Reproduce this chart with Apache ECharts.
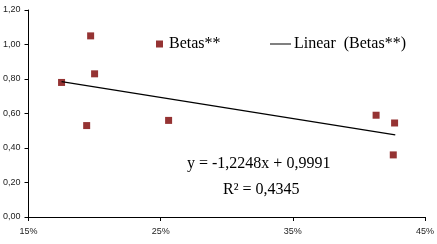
<!DOCTYPE html>
<html><head><meta charset="utf-8">
<script src="https://cdn.jsdelivr.net/npm/echarts@6/dist/echarts.min.js"></script>
<style>html,body{margin:0;padding:0;background:#fff}#c{width:437px;height:244px}</style>
</head><body><div id="c"></div>
<script>
// Data (x in %, y = beta)
const betaX = [17.5, 19.7, 20.0, 19.4, 25.6, 41.3, 42.7, 42.6];
const betaY = [0.78, 1.05, 0.83, 0.53, 0.56, 0.59, 0.545, 0.36];
const trendX = [17.5, 42.75];
const trendY = [0.785, 0.476];
const xTicks = [15, 25, 35, 45];
const yTicks = [0, 0.2, 0.4, 0.6, 0.8, 1.0, 1.2];
const eqText = 'y = -1,2248x + 0,9991';
const r2Text = 'R² = 0,4345';
const seriesName = 'Betas**';
const trendName = 'Linear  (Betas**)';

const chart = echarts.init(document.getElementById('c'), null, {renderer: 'canvas'});
const serif = '"Liberation Serif", "DejaVu Serif", serif';
const axisFont = {fontFamily: '"Liberation Sans", Arial, sans-serif', fontSize: 9, color: '#222'};
chart.setOption({
  animation: false,
  backgroundColor: '#fff',
  grid: {left: 26, right: 12, top: 10, bottom: 27, containLabel: false},
  xAxis: {
    type: 'value', min: xTicks[0], max: xTicks[xTicks.length - 1], interval: 10,
    axisLine: {show: true, lineStyle: {color: '#000', width: 1}},
    axisTick: {show: true, length: 4, inside: false, lineStyle: {color: '#000'}},
    splitLine: {show: false},
    axisLabel: Object.assign({margin: 10, formatter: v => v + '%'}, axisFont)
  },
  yAxis: {
    type: 'value', min: yTicks[0], max: yTicks[yTicks.length - 1], interval: 0.2,
    axisLine: {show: true, lineStyle: {color: '#000', width: 1}},
    axisTick: {show: true, length: 4, lineStyle: {color: '#000'}},
    splitLine: {show: false},
    axisLabel: Object.assign({margin: 8, formatter: v => v.toFixed(2).replace('.', ',')}, axisFont)
  },
  legend: [
    {data: [{name: seriesName, icon: 'rect'}], left: 151, top: 31, itemWidth: 7, itemHeight: 7,
     textStyle: {fontFamily: serif, fontSize: 16, color: '#000', padding: [0, 0, 0, 1]}},
    {data: [{name: trendName, icon: 'rect'}], left: 265, top: 31, itemWidth: 21, itemHeight: 1,
     textStyle: {fontFamily: serif, fontSize: 16, color: '#000', padding: [0, 0, 0, -2]}}
  ],
  series: [
    {name: seriesName, type: 'scatter', symbol: 'rect', symbolSize: 7,
     itemStyle: {color: '#7a0000'},
     data: betaX.map((x, i) => [x, betaY[i]])},
    {name: trendName, type: 'line', showSymbol: false, symbol: 'none',
     lineStyle: {color: '#000', width: 1.2}, itemStyle: {color: '#000'},
     data: trendX.map((x, i) => [x, trendY[i]])}
  ],
  graphic: [
    {type: 'text', left: 187, top: 156, style: {text: eqText, font: '16px ' + serif, fill: '#000'}},
    {type: 'text', left: 223, top: 182, style: {text: r2Text, font: '16px ' + serif, fill: '#000'}}
  ]
});
</script></body></html>
